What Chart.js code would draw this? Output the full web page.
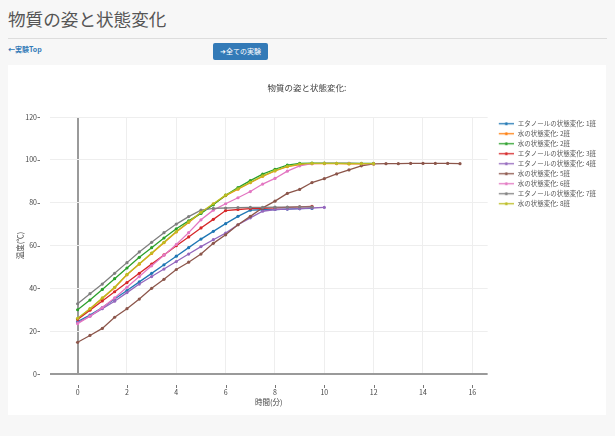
<!DOCTYPE html>
<html lang="ja">
<head>
<meta charset="utf-8">
<title>物質の姿と状態変化</title>
<script src="https://cdn.jsdelivr.net/npm/chart.js@4.4.1/dist/chart.umd.min.js"></script>
<style>
  body { margin: 0; width: 615px; height: 436px; overflow: hidden; position: relative;
         background: #f7f7f7; font-family: "Noto Sans CJK JP", "Open Sans", sans-serif; }
  h1 { position: absolute; left: 8px; top: 6px; margin: 0; font-size: 17.6px; font-weight: normal; color: #555; }
  .rule { position: absolute; left: 8px; right: 8px; top: 38px; border-top: 1px solid #ddd; }
  .toplink { position: absolute; left: 8px; top: 44px; font-size: 7px; font-weight: bold; color: #337ab7; text-decoration: none; }
  .btn { position: absolute; left: 213px; top: 43px; width: 55px; height: 17px; line-height: 17px; text-align: center;
         background: #337ab7; color: #fff; font-size: 7px; border-radius: 2px; }
  .panel { position: absolute; left: 8px; top: 65px; width: 598px; height: 350px; background: #fff; }
</style>
</head>
<body>
<h1>物質の姿と状態変化</h1>
<div class="rule"></div>
<a class="toplink" href="#">&#8592;実験Top</a>
<div class="btn">&#10140;全ての実験</div>
<div class="panel"><canvas id="grafico" width="598" height="350"></canvas></div>

<script>
// DATOS (tiempo en minutos, temperatura en ℃)
const tiempos = [0, 0.5, 1, 1.5, 2, 2.5, 3, 3.5, 4, 4.5, 5, 5.5, 6, 6.5, 7, 7.5, 8, 8.5, 9, 9.5,
  10, 10.5, 11, 11.5, 12, 12.5, 13, 13.5, 14, 14.5, 15, 15.5];

const nombres = ['エタノールの状態変化: 1班', '水の状態変化: 2班', '水の状態変化: 2班', 'エタノールの状態変化: 3班',
  'エタノールの状態変化: 4班', '水の状態変化: 5班', '水の状態変化: 6班', 'エタノールの状態変化: 7班', '水の状態変化: 8班'];

const han1 = [24.5, 27.5, 31, 35, 39, 43, 47, 51, 55, 59, 63, 66.6, 70.2, 73.6, 76.5, 76.7, 76.8, 77, 77.2, 77.3];
const han2a = [25.8, 30.3, 35.3, 40.3, 46.3, 51.3, 56.3, 61.3, 66.3, 70.8, 75.3, 79.3, 83.3, 86.3, 89.3, 92.3, 94.8, 96.8, 97.8, 98.2, 98.2, 98.2, 98.1, 98.1, 98.1];
const han2b = [30, 34.5, 39.5, 44.5, 49.5, 54.5, 59, 63.5, 67.8, 71.5, 75, 79, 83.5, 87, 90.3, 93.3, 95.6, 97.5, 98.3, 98.5, 98.5, 98.4, 98.4, 98.3, 98.3];
const han3 = [25.5, 29.8, 34.1, 38.4, 42.7, 47, 51.3, 55.6, 59.9, 64, 68.2, 72.2, 76.3, 76.8, 77.2, 77.4, 77.6, 77.8, 78, 78.3];
const han4 = [24, 27, 30.5, 34, 38, 42, 45.5, 49, 52.5, 56, 59.5, 62.7, 65.8, 69.7, 72.9, 76, 76.8, 77, 77.2, 77.5, 77.8];
const han5 = [14.8, 18, 21.3, 26.5, 30.5, 35, 40, 44.2, 48.8, 52.2, 56, 61, 65, 69.7, 73.6, 77.6, 80.7, 84.3, 86.2, 89.4,
  91.2, 93.4, 95.3, 97.2, 98.1, 98.2, 98.2, 98.3, 98.3, 98.3, 98.3, 98.2];
const han6 = [23.5, 27, 31, 35.5, 40.5, 45.5, 50.5, 55.5, 60.5, 66, 72, 76.5, 79.5, 82.3, 85.2, 88.7, 91.3, 94.7, 97.2, 98.2, 98.3, 98.3, 98.3, 98.2, 98.2];
const han7 = [32.8, 37.5, 42, 47, 52, 57, 61.5, 66, 70, 73.5, 76.5, 77.3, 77.5, 77.7, 77.8, 77.8, 77.9, 77.9, 78, 78];
const han8 = [26, 30.5, 35.5, 40.5, 46.5, 51.5, 56.5, 61.5, 66.5, 71, 75.5, 79.5, 83.5, 86.5, 89.5, 92.5, 95, 97, 98, 98.3, 98.3, 98.3, 98.2, 98.2, 98.2];

const series = [han1, han2a, han2b, han3, han4, han5, han6, han7, han8];

const xTicks = [0, 2, 4, 6, 8, 10, 12, 14, 16];
const yTicks = [0, 20, 40, 60, 80, 100, 120];

const colores = ['#1f77b4', '#ff7f0e', '#2ca02c', '#d62728', '#9467bd', '#8c564b', '#e377c2', '#7f7f7f', '#bcbd22'];

// iconos de la leyenda: linea con un punto
function iconoLeyenda(color) {
  const c = document.createElement('canvas');
  c.width = 22; c.height = 5;
  const g = c.getContext('2d');
  g.strokeStyle = color; g.lineWidth = 1.3;
  g.beginPath(); g.moveTo(7, 2.5); g.lineTo(22, 2.5); g.stroke();
  g.fillStyle = color;
  g.beginPath(); g.arc(14.5, 2.5, 1.5, 0, Math.PI * 2); g.fill();
  return c;
}
const iconos = colores.map(iconoLeyenda);

const datasets = series.map((vals, i) => ({
  label: nombres[i],
  data: vals.map((v, j) => ({ x: tiempos[j], y: v })),
  borderColor: colores[i],
  backgroundColor: colores[i],
  pointBackgroundColor: colores[i],
  order: -i
}));

const gridColor = c => (c.tick && c.tick.value === 0 ? '#9a9a9a' : '#eeeeee');
const gridWidth = c => (c.tick && c.tick.value === 0 ? 2 : 1);

// marcas pequeñas de los ticks (separadas del eje)
const marcas = {
  id: 'marcas',
  afterDraw(chart) {
    const { ctx, scales: { x, y } } = chart;
    ctx.save();
    ctx.strokeStyle = '#777';
    ctx.lineWidth = 1;
    xTicks.forEach(v => {
      const px = Math.round(x.getPixelForValue(v)) + 0.5;
      ctx.beginPath(); ctx.moveTo(px, x.top + 11); ctx.lineTo(px, x.top + 14); ctx.stroke();
    });
    yTicks.forEach(v => {
      const py = Math.round(y.getPixelForValue(v)) + 0.5;
      ctx.beginPath(); ctx.moveTo(y.right - 12.5, py); ctx.lineTo(y.right - 10, py); ctx.stroke();
    });
    ctx.restore();
  }
};

Chart.defaults.font.family = '"Noto Sans CJK JP", "Open Sans", sans-serif';
Chart.defaults.color = '#444';

const ctx = document.getElementById('grafico').getContext('2d');
const grafico = new Chart(ctx, {
  type: 'line',
  data: { datasets },
  options: {
    responsive: false,
    animation: false,
    devicePixelRatio: 1,
    layout: { padding: { left: 0, right: 0, top: 0, bottom: 0 } },
    elements: {
      line: { borderWidth: 1.3, tension: 0 },
      point: { radius: 1.6, borderWidth: 0, hoverRadius: 2 }
    },
    scales: {
      x: {
        type: 'linear',
        min: -1.12,
        max: 16.62,
        afterBuildTicks: s => { s.ticks = xTicks.map(v => ({ value: v })); },
        afterFit: s => { s.height = 41; },
        ticks: { font: { size: 7 }, color: '#444', padding: 13.8, maxRotation: 0 },
        grid: { color: gridColor, lineWidth: gridWidth, drawTicks: false },
        border: { display: false },
        title: { display: true, text: '時間(分)', font: { size: 7.5 }, color: '#444', padding: { top: 0, bottom: 8.5 } }
      },
      y: {
        min: 0,
        max: 120,
        afterBuildTicks: s => { s.ticks = yTicks.map(v => ({ value: v })); },
        afterFit: s => { s.width = 42; },
        ticks: { font: { size: 7 }, color: '#444', padding: 13 },
        grid: { color: gridColor, lineWidth: gridWidth, drawTicks: false },
        border: { display: false },
        title: { display: true, text: '温度(℃)', font: { size: 7.5 }, color: '#444', padding: { top: 7.5, bottom: 0 } }
      }
    },
    plugins: {
      title: {
        display: true,
        text: '物質の姿と状態変化:',
        color: '#444',
        font: { size: 8.5, weight: 'normal' },
        padding: { top: 18, bottom: 23.8 }
      },
      legend: {
        position: 'right',
        align: 'start',
        fullSize: false,
        labels: {
          usePointStyle: true,
          pointStyleWidth: 23.25,
          boxHeight: 6.5,
          padding: 3.5,
          color: '#555',
          font: { size: 6.5 },
          sort: (a, b) => a.datasetIndex - b.datasetIndex,
          generateLabels(chart) {
            const items = Chart.defaults.plugins.legend.labels.generateLabels(chart);
            items.forEach(it => { it.pointStyle = iconos[it.datasetIndex]; });
            return items;
          }
        }
      },
      tooltip: { enabled: false }
    }
  },
  plugins: [marcas]
});
</script>
</body>
</html>
